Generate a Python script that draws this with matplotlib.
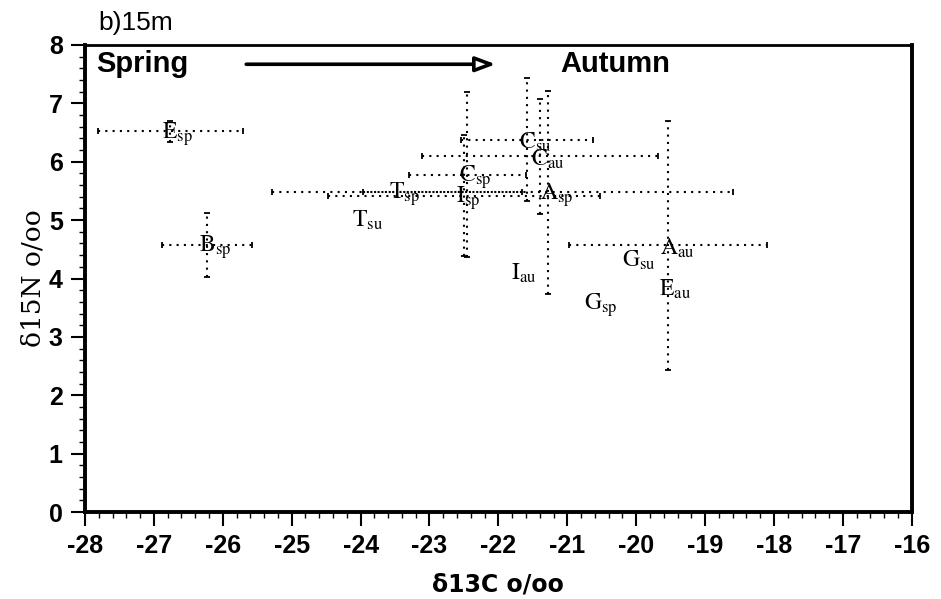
import numpy as np
import matplotlib.pyplot as plt
from matplotlib.ticker import MultipleLocator

plt.rcParams['mathtext.fontset'] = 'stix'
plt.rcParams['axes.unicode_minus'] = False

# group means (d13C, d15N) with season codes
species = ['E', 'B', 'T', 'T', 'C', 'I', 'A', 'C', 'C', 'I', 'G', 'G', 'A', 'E']
season = ['sp', 'sp', 'su', 'sp', 'sp', 'sp', 'sp', 'su', 'au', 'au', 'sp', 'su', 'au', 'au']
d13c = [-26.76, -26.23, -24.0, -23.47, -22.45, -22.5, -21.28, -21.58, -21.4, -21.69, -20.63, -20.09, -19.54, -19.55]
d15n = [6.52, 4.58, 5.05, 5.49, 5.78, 5.42, 5.48, 6.38, 6.09, 4.15, 3.6, 4.37, 4.57, 3.86]
# standard deviations (0 = not shown)
sd13c = [1.05, 0.65, 0.0, 1.81, 0.85, 1.97, 2.68, 0.96, 1.71, 0.0, 0.0, 0.0, 1.44, 0.0]
sd15n = [0.18, 0.55, 0.0, 0.0, 1.41, 1.03, 1.74, 1.06, 0.98, 0.0, 0.0, 0.0, 2.13, 0.0]

fig = plt.figure(figsize=(9.41, 5.99), dpi=100)
ax = fig.add_axes([0.0903, 0.1452, 0.8787, 0.7797])


def dotted_bar(x, y, **kw):
    eb = ax.errorbar(x, y, fmt='none', ecolor='black', elinewidth=1.5, capsize=2,
                     capthick=1.3, **kw)
    for lc in eb[2]:
        lc.set_linestyle((0, (1, 2.5)))


for x, y, sx, sy in zip(d13c, d15n, sd13c, sd15n):
    if sx > 0:
        dotted_bar(x, y, xerr=sx)
    if sy > 0:
        dotted_bar(x, y, yerr=sy)

for x, y, sp, se in zip(d13c, d15n, species, season):
    ax.annotate(r'$\mathrm{%s}_{\mathrm{%s}}$' % (sp, se), (x, y), xytext=(-6, -2),
                textcoords='offset points', ha='left', va='center', fontsize=17,
                color='black')

# season arrow
ax.text(-27.84, 7.67, 'Spring', fontsize=21, fontweight='bold', family='Liberation Sans',
        ha='left', va='center')
ax.annotate('', xy=(-22.0, 7.67), xytext=(-25.7, 7.67),
            arrowprops=dict(arrowstyle='-|>,head_width=0.45,head_length=1.2',
                            fc='white', ec='black', lw=2.6))
ax.text(-21.1, 7.67, 'Autumn', fontsize=21, fontweight='bold', family='Liberation Sans',
        ha='left', va='center')

ax.set_xlim(-28, -16)
ax.set_ylim(0, 8)
ax.xaxis.set_major_locator(MultipleLocator(1))
ax.xaxis.set_minor_locator(MultipleLocator(0.2))
ax.yaxis.set_major_locator(MultipleLocator(1))
ax.yaxis.set_minor_locator(MultipleLocator(0.2))
ax.tick_params(which='major', direction='out', length=10, width=1.5, labelsize=18, pad=6)
ax.tick_params(which='minor', direction='out', length=4, width=1)
for lab in ax.get_xticklabels() + ax.get_yticklabels():
    lab.set_fontweight('bold')
    lab.set_family('Liberation Sans')

for side in ['left', 'bottom', 'right']:
    ax.spines[side].set_linewidth(2.8)
ax.spines['top'].set_linewidth(2.0)

ax.set_xlabel('δ13C o/oo', fontsize=17, fontweight='bold', family='DejaVu Sans', labelpad=10)
ax.set_ylabel('δ15N o/oo', fontsize=19, family='DejaVu Serif', labelpad=2)
fig.text(0.104, 0.962, 'b)15m', fontsize=19, family='Liberation Sans', ha='left', va='center')

fig.savefig('out.png', dpi=100)
